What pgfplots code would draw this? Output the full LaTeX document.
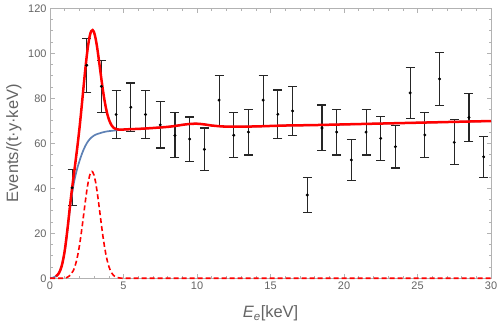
\documentclass[border=0pt]{standalone}
\usepackage{fontspec}
\setmainfont{Liberation Sans}
\usepackage{pgfplots}
\usepackage{pgfplotstable}
\pgfplotsset{compat=1.18}
\definecolor{mmablue}{RGB}{94,129,181}
\definecolor{framec}{RGB}{178,178,178}
\definecolor{txt}{RGB}{100,100,100}
\pgfplotstableread{
x y e
1.5 40.2 8.0
2.5 94.7 12.0
3.5 85.3 11.5
4.5 72.8 10.8
5.5 76.0 10.8
6.5 72.8 10.8
7.5 68.2 10.3
8.5 63.5 10.0
9.5 61.9 9.8
10.5 57.3 9.5
11.5 79.2 11.1
12.5 63.6 10.0
13.5 65.0 10.2
14.5 79.2 11.1
15.5 72.9 10.8
16.5 74.4 10.9
17.5 37.0 7.6
18.5 66.8 10.2
19.5 65.0 10.2
20.5 52.6 9.1
21.5 65.0 10.2
22.5 62.2 9.9
23.5 58.5 9.5
24.5 82.4 11.4
25.5 63.7 10.1
26.5 88.6 11.9
27.5 60.4 10.0
28.5 71.5 10.7
29.5 54.0 9.2
}\datatable
\pgfplotstableread{
x y
0 0
0.2 0.3
0.4 0.9
0.6 2.2
0.8 5.5
1.0 12
1.2 22
1.4 33
1.6 41.5
1.7 44.7
1.8 47.5
1.9 49.9
2.0 52
2.1 54
2.2 55.8
2.3 57.4
2.4 58.8
2.5 60.0
2.6 61.0
2.7 61.8
2.8 62.5
2.9 63.0
3.0 63.5
3.2 64.1
3.4 64.5
3.6 64.9
3.8 65.2
4.0 65.4
4.2 65.55
4.4 65.7
4.6 65.85
4.8 66.0
5.0 66.1
5.5 66.3
6.0 66.4
7.0 66.8
8.0 67.3
8.5 67.7
9.0 68.2
9.5 68.6
10.0 68.7
10.5 68.4
11.0 67.9
11.5 67.6
12.0 67.4
13.0 67.4
14.0 67.5
15.0 67.7
16.0 67.9
18.0 68.1
20.0 68.4
22.0 68.7
24.0 69.0
26.0 69.3
28.0 69.6
30.0 69.9
}\bgtable
\pgfplotstableread{
x y
0.4 0.9
0.6 2.2
0.8 5.55
1.0 12.17
1.2 22.53
1.4 34.47
1.6 45.09
1.7 50.04
1.8 55.18
1.9 60.59
2.0 66.39
2.1 72.74
2.2 79.43
2.3 86.21
2.4 92.79
2.5 98.79
2.6 103.84
2.7 107.57
2.8 109.80
2.9 110.30
3.0 109.27
3.1 106.64
3.2 102.89
3.3 98.29
3.4 93.31
3.5 88.33
3.6 83.64
3.7 79.44
3.8 75.89
3.9 72.98
4.0 70.74
4.1 69.09
4.2 67.89
4.3 67.07
4.4 66.60
4.6 66.15
4.8 66.09
5.0 66.12
5.5 66.3
6.0 66.4
7.0 66.8
8.0 67.3
8.5 67.7
9.0 68.2
9.5 68.6
10.0 68.7
10.5 68.4
11.0 67.9
11.5 67.6
12.0 67.4
13.0 67.4
14.0 67.5
15.0 67.7
16.0 67.9
18.0 68.1
20.0 68.4
22.0 68.7
24.0 69.0
26.0 69.3
28.0 69.6
30.0 69.9
}\totaltable
\pgfplotstableread{
x y
0 0
1.0 0
1.2 0.53
1.4 1.47
1.6 3.59
1.7 5.34
1.8 7.68
1.9 10.69
2.0 14.39
2.1 18.74
2.2 23.63
2.3 28.81
2.4 33.99
2.5 38.79
2.6 42.84
2.7 45.77
2.8 47.30
2.85 47.5
2.9 47.30
3.0 45.77
3.1 42.84
3.2 38.79
3.3 33.99
3.4 28.81
3.5 23.63
3.6 18.74
3.7 14.39
3.8 10.69
3.9 7.68
4.0 5.34
4.1 3.59
4.2 2.34
4.3 1.47
4.4 0.90
4.6 0.30
4.8 0.09
5.0 0
30.0 0
}\peaktable
\begin{document}
\begin{tikzpicture}
\useasboundingbox (0,0) rectangle (498bp,324bp);
\begin{axis}[
  at={(50bp,45.7bp)}, anchor=south west,
  scale only axis, width=441bp, height=270bp,
  xmin=0, xmax=30, ymin=0, ymax=120,
  xtick={0,5,...,30}, ytick={0,20,...,120},
  minor x tick num=4, minor y tick num=3,
  tick align=inside, major tick length=4.5bp, minor tick length=2.5bp,
  axis line style={framec, line width=0.9bp},
  every tick/.style={framec, line width=0.6bp},
  ticklabel style={font=\fontsize{11}{13}\selectfont, text=txt},
  /pgf/number format/assume math mode=true,
  xlabel={\textit{E}\textsubscript{\textit{e}}[keV]},
  ylabel={Events/(t·y·keV)},
  label style={font=\fontsize{16.5}{18}\selectfont, text=txt},
  xlabel style={at={(axis description cs:0.5,-0.147)}, anchor=base},
  ylabel style={at={(axis description cs:-0.072,0.5)}, anchor=base},
  clip=false,
]
\addplot+[only marks, black, mark=*, mark size=1.3bp,
  mark options={fill=black},
  error bars/.cd, y dir=both, y explicit,
  error bar style={line width=1.1bp, black!85},
  error mark options={rotate=90, mark size=4.5bp, line width=1.1bp, black!85}]
  table[x=x, y=y, y error=e]{\datatable};
\addplot[mmablue, line width=1.7bp, smooth] table[x=x,y=y]{\bgtable};
\addplot[red, line width=2.5bp, smooth] table[x=x,y=y]{\totaltable};
\addplot[red, line width=1.6bp, dash pattern=on 5bp off 3bp] table[x=x,y=y]{\peaktable};
\end{axis}
\end{tikzpicture}
\end{document}
